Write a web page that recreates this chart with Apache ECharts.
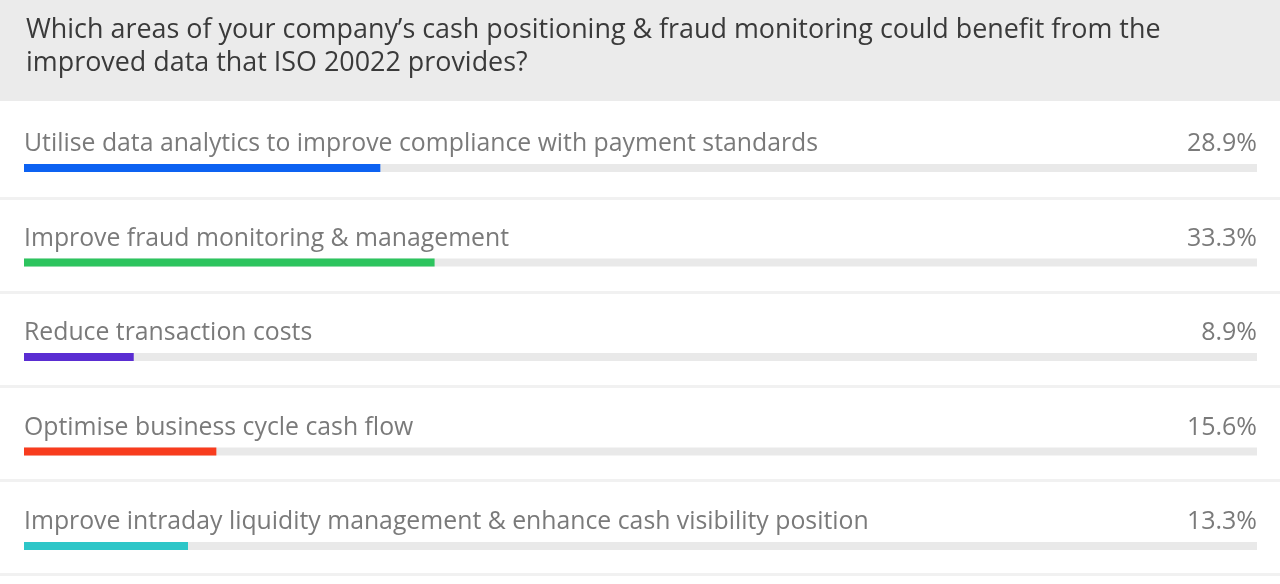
<!DOCTYPE html>
<html><head><meta charset="utf-8">
<script src="https://cdn.jsdelivr.net/npm/echarts@6/dist/echarts.min.js"></script>
<style>html,body{margin:0;padding:0;background:#fff}#c{width:1280px;height:584px}</style>
</head><body><div id="c"></div>
<script>
const titleText = "Which areas of your company\u2019s cash positioning & fraud monitoring could benefit from the\nimproved data that ISO 20022 provides?";
const categories = [
  "Utilise data analytics to improve compliance with payment standards",
  "Improve fraud monitoring & management",
  "Reduce transaction costs",
  "Optimise business cycle cash flow",
  "Improve intraday liquidity management & enhance cash visibility position"
];
const values = [28.9, 33.3, 8.9, 15.6, 13.3];
const colors = ["#0d62f2", "#2dc45e", "#5a2dd2", "#f83c1e", "#2dc6c8"];
const trackMax = [100, 100, 100, 100, 100];

const chart = echarts.init(document.getElementById('c'));
const font = "'Open Sans', 'Noto Sans', sans-serif";
const sepYs = [198, 292, 386, 480, 574];
chart.setOption({
  animation: false,
  backgroundColor: '#fff',
  graphic: [
    {type: 'rect', shape: {x: 0, y: 0, width: 1280, height: 101}, style: {fill: '#ebebeb'}, z: -10}
  ].concat(sepYs.map(y => ({type: 'rect', shape: {x: 0, y: y - 1, width: 1280, height: 3}, style: {fill: '#f1f1f1'}, z: -10}))),
  title: {
    text: titleText, left: 21, top: 9,
    textStyle: {fontFamily: font, fontSize: 26.9, fontWeight: 'normal', color: '#3a3a3a', lineHeight: 33}
  },
  grid: {left: 24, right: 23, top: 168, bottom: 38, containLabel: false},
  xAxis: {type: 'value', min: 0, max: 100, show: false},
  yAxis: {type: 'category', data: categories, inverse: true, boundaryGap: false, show: false},
  series: [
    {
      type: 'bar', data: trackMax, barWidth: 8, barGap: '-100%', silent: true,
      itemStyle: {color: '#e9e9e9'},
      label: {
        show: true, position: ['100%', -20], align: 'right', verticalAlign: 'middle',
        fontFamily: font, fontSize: 25, color: '#7a7a7a',
        formatter: p => values[p.dataIndex].toFixed(1) + '%'
      },
      z: 1
    },
    {
      type: 'bar', data: values.map((v, i) => ({value: v, itemStyle: {color: colors[i]}})),
      barWidth: 8, barGap: '-100%',
      label: {
        show: true, position: [0, -20], align: 'left', verticalAlign: 'middle',
        fontFamily: font, fontSize: 24.8, color: '#7a7a7a',
        formatter: p => categories[p.dataIndex]
      },
      z: 2
    }
  ]
});
</script></body></html>
